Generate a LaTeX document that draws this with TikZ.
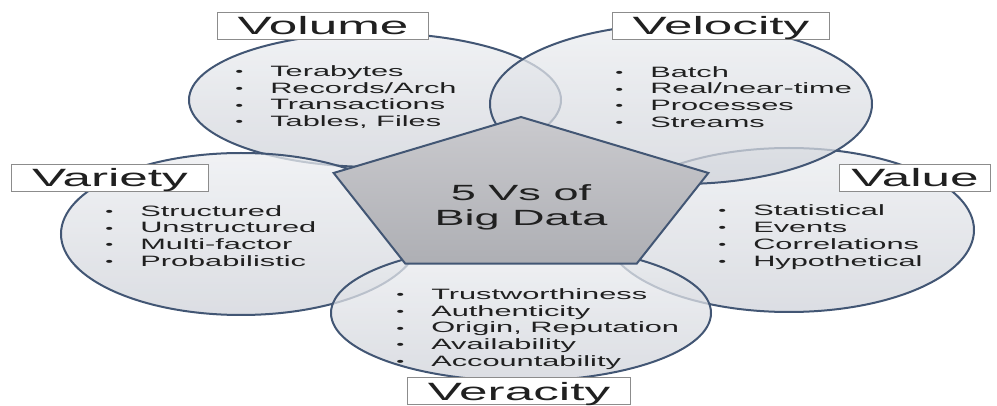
\documentclass[tikz,border=0pt]{standalone}
\usepackage{fontspec}
\setmainfont{Liberation Sans}
\usepackage{tikz}
\definecolor{pizarra}{RGB}{66,86,116}
\definecolor{niebla}{RGB}{236,238,241}
\definecolor{bruma}{RGB}{208,211,218}
\definecolor{piedra}{RGB}{202,202,206}
\definecolor{grafito}{RGB}{174,175,180}
\definecolor{tinta}{RGB}{32,32,32}
\definecolor{marco}{RGB}{140,140,140}
\newcommand{\vitem}[1]{\makebox[17pt][l]{\raisebox{0.8pt}{\fontsize{11pt}{11pt}\selectfont\textbullet}}#1}

\begin{document}
\begin{tikzpicture}[x=1pt, y=-1pt,
  vring/.style={draw=pizarra, line width=2pt, top color=niebla, bottom color=bruma, fill opacity=0.75},
  vcore/.style={draw=pizarra, line width=2pt, top color=piedra, bottom color=grafito},
  vtag/.style={draw=marco, line width=1pt, fill=white, text=tinta, xscale=2.05,
    font=\fontsize{25pt}{25pt}\selectfont, text height=18pt, text depth=0pt,
    minimum height=27pt, inner xsep=10pt, inner ysep=0pt},
  vlist/.style={anchor=west, align=left, text=tinta, xscale=2.05, inner sep=0pt,
    font=\fontsize{15pt}{16.8pt}\selectfont},
  vtitle/.style={align=center, text=tinta, xscale=2.05, inner sep=0pt,
    font=\fontsize{22pt}{25pt}\selectfont}]
  \useasboundingbox (0,0) rectangle (997,406);
  \fill[white] (0,0) rectangle (997,406);
  \path[vring] (375,100) ellipse [x radius=186, y radius=67];
  \path[vring] (789,230) ellipse [x radius=185, y radius=82];
  \path[vring] (681,104) ellipse [x radius=191, y radius=80];
  \path[vring] (241,234) ellipse [x radius=180, y radius=81];
  \path[vring] (521,313) ellipse [x radius=190, y radius=68];
  \foreach \i in {0,...,4}
    \coordinate (p\i) at ({521+197*cos(90+72*\i)}, {198-81*sin(90+72*\i)});
  \path[vcore] (p0) -- (p1) -- (p2) -- (p3) -- (p4) -- cycle;
  \node[vtitle] (core) at (521,207) {5 Vs of\\Big Data};
  \node[vtag] (volume) at (323,26) {Volume};
  \node[vtag] (velocity) at (721,26) {Velocity};
  \node[vtag] (variety) at (110,178) {Variety};
  \node[vtag, inner xsep=6pt] (value) at (915,178) {Value};
  \node[vtag] (veracity) at (519,391) {Veracity};
  \node[vlist] (volumeList) at (235,97) {\vitem{Terabytes}\\\vitem{Records/Arch}\\\vitem{Transactions}\\\vitem{Tables, Files}};
  \node[vlist] (velocityList) at (615,97) {\vitem{Batch}\\\vitem{Real/near-time}\\\vitem{Processes}\\\vitem{Streams}};
  \node[vlist] (varietyList) at (105,236) {\vitem{Structured}\\\vitem{Unstructured}\\\vitem{Multi-factor}\\\vitem{Probabilistic}};
  \node[vlist] (valueList) at (718,237) {\vitem{Statistical}\\\vitem{Events}\\\vitem{Correlations}\\\vitem{Hypothetical}};
  \node[vlist] (veracityList) at (396,329) {\vitem{Trustworthiness}\\\vitem{Authenticity}\\\vitem{Origin, Reputation}\\\vitem{Availability}\\\vitem{Accountability}};
\end{tikzpicture}
\end{document}
